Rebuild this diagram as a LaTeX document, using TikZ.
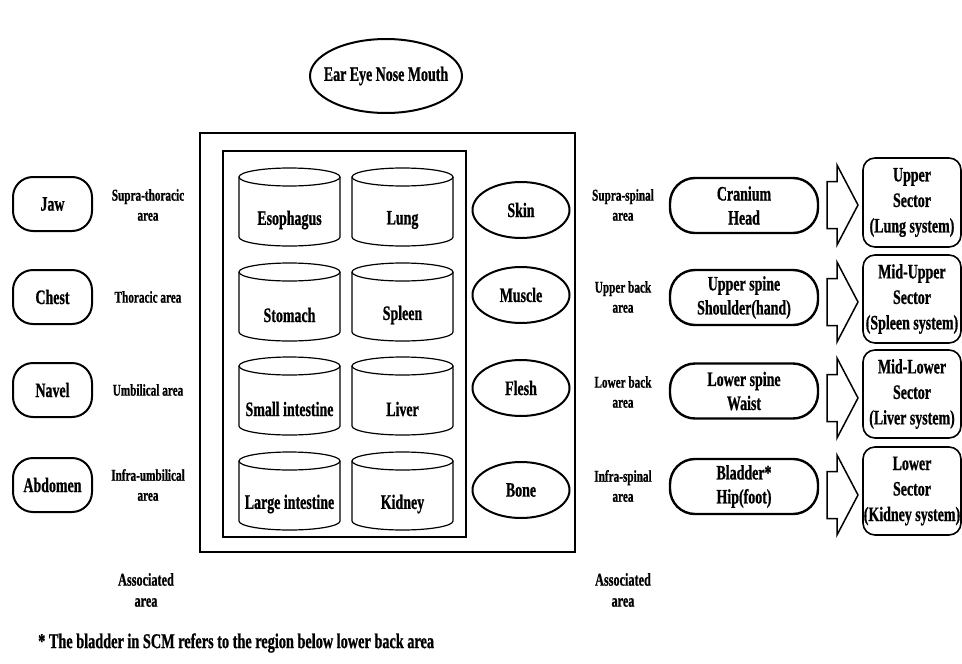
\documentclass[tikz,border=0pt]{standalone}
\usepackage{fontspec}
\setmainfont{Liberation Serif}[FakeStretch=0.68]
\newfontfamily\heavyserif{Liberation Serif}[FakeStretch=0.68, BoldFeatures={FakeBold=0.8}]
\usetikzlibrary{shapes.geometric}
\begin{document}
\begin{tikzpicture}[x=1pt,y=-1pt,
  big/.style={font=\heavyserif\bfseries\fontsize{20.5}{24}\selectfont},
  lbl/.style={font=\heavyserif\bfseries\fontsize{16.5}{20}\selectfont, align=center},
  assoc/.style={font=\heavyserif\bfseries\fontsize{18}{21}\selectfont, align=center},
  partbox/.style={draw, line width=2pt, rounded corners=20pt, minimum width=79pt,
    minimum height=54pt, inner sep=0pt, big},
  organ/.style={draw, ellipse, line width=2pt, minimum width=97pt, minimum height=56pt,
    inner sep=0pt, big},
  spinebox/.style={draw, line width=2.4pt, rounded corners=25pt, minimum width=148pt,
    minimum height=55pt, inner sep=0pt, big, align=center},
  sectorbox/.style={draw, line width=1.6pt, rounded corners=12pt, minimum width=98pt,
    minimum height=88pt, inner sep=0pt, align=center,
    font=\heavyserif\bfseries\fontsize{20.5}{25.5}\selectfont},
  cylline/.style={line width=1.2pt},
  frame/.style={line width=1.5pt},
  blockarrow/.style={line width=1.5pt, line join=miter}]

\useasboundingbox (0,0) rectangle (962,664);

% senses on top: text node with its own ellipse outline
\node[big] (senses) at (386,76) {Ear Eye Nose Mouth};
\draw[line width=2pt] (senses.center) ellipse[x radius=76, y radius=37];

% body frame with the inner viscera frame
\draw[frame] (200,133) rectangle (575,552);
\draw[frame] (223,151) rectangle (466,537);

% viscera drawn as cylinders
\foreach \cx/\ty/\nm/\txt in {289.5/168/eso/Esophagus, 402.5/168/lung/Lung,
    289.5/263/stom/Stomach, 402.5/263/spl/Spleen,
    289.5/357/si/Small intestine, 402.5/357/liv/Liver,
    289.5/452/li/Large intestine, 402.5/452/kid/Kidney}{
  \draw[cylline] (\cx-50.5,\ty+9) -- (\cx-50.5,\ty+69)
    arc[start angle=180, end angle=0, x radius=50.5, y radius=9] -- (\cx+50.5,\ty+9);
  \draw[cylline] (\cx,\ty+9) ellipse[x radius=50.5, y radius=9];
  \node[big] (\nm) at (\cx,\ty+52) {\txt};
}

% tissues
\node[organ] (skin)   at (521,210) {Skin};
\node[organ] (muscle) at (521,295) {Muscle};
\node[organ] (flesh)  at (521,388) {Flesh};
\node[organ] (bone)   at (521,490) {Bone};

% front of the body
\node[partbox] (jaw)     at (52.5,204) {Jaw};
\node[partbox] (chest)   at (52.5,297) {Chest};
\node[partbox] (navel)   at (52.5,390) {Navel};
\node[partbox] (abdomen) at (52.5,485) {Abdomen};

\node[lbl] (supthor) at (148,205) {Supra-thoracic\\area};
\node[lbl] (thor)    at (148,297) {Thoracic area};
\node[lbl] (umb)     at (148,390) {Umbilical area};
\node[lbl] (infumb)  at (148,485) {Infra-umbilical\\area};

% back of the body
\node[lbl] (supspin) at (623,205) {Supra-spinal\\area};
\node[lbl] (upback)  at (623,297) {Upper back\\area};
\node[lbl] (loback)  at (623,392) {Lower back\\area};
\node[lbl] (infspin) at (623,486) {Infra-spinal\\area};

\node[spinebox] (cranium) at (744,205.5) {Cranium\\Head};
\node[spinebox] (upspine) at (744,297.5) {Upper spine\\Shoulder(hand)};
\node[spinebox] (lospine) at (744,391)   {Lower spine\\Waist};
\node[spinebox] (bladder) at (744,486.5) {Bladder*\\Hip(foot)};

% sectors
\node[sectorbox, minimum height=89pt] (sec1) at (912,202.5) {Upper\\Sector\\(Lung system)};
\node[sectorbox] (sec2) at (912,299) {Mid-Upper\\Sector\\(Spleen system)};
\node[sectorbox] (sec3) at (912,394) {Mid-Lower\\Sector\\(Liver system)};
\node[sectorbox] (sec4) at (912,491) {Lower\\Sector\\(Kidney system)};

% block arrows from spine boxes to sectors
\foreach \ay/\nm in {205/arr1, 302/arr2, 398/arr3, 495/arr4}{
  \coordinate (\nm) at (842.5,\ay);
  \draw[blockarrow] (827,\ay-23.5) -- (837,\ay-23.5) -- (837,\ay-40) -- (858,\ay)
    -- (837,\ay+40) -- (837,\ay+23.5) -- (827,\ay+23.5) -- cycle;
}

% column captions
\node[assoc] (assocL) at (146,590) {Associated\\area};
\node[assoc] (assocR) at (623,590) {Associated\\area};

% footnote
\node[font=\heavyserif\bfseries\fontsize{21}{24}\selectfont, anchor=west, inner sep=0pt]
  (note) at (38,643) {* The bladder in SCM refers to the region below lower back area};
\end{tikzpicture}
\end{document}
